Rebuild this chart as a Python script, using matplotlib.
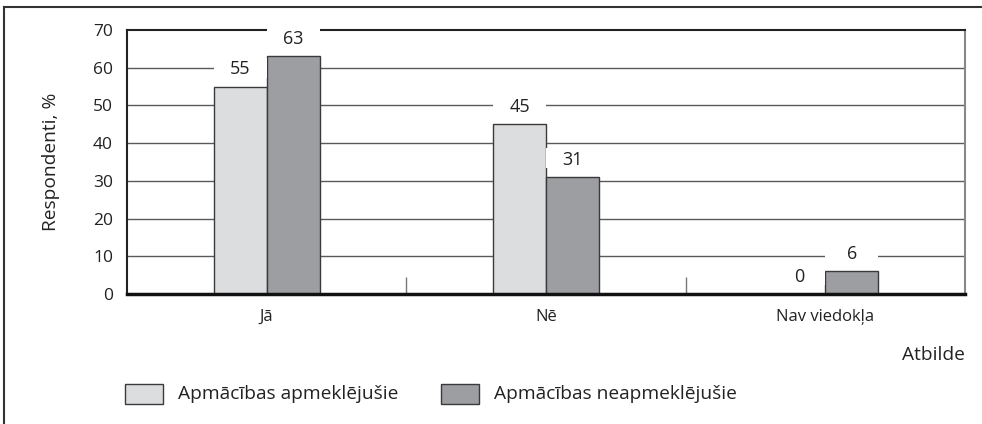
import matplotlib
matplotlib.use("Agg")
import matplotlib.pyplot as plt
from matplotlib.patches import Rectangle
from matplotlib.lines import Line2D
import numpy as np

categories = ["Jā", "Nē", "Nav viedokļa"]
attended = [55, 45, 0]
not_attended = [63, 31, 6]
series_names = ["Apmācības apmeklējušie", "Apmācības neapmeklējušie"]
yticks = [0, 10, 20, 30, 40, 50, 60, 70]

plt.rcParams['font.family'] = ['Open Sans', 'DejaVu Sans']

W, H = 982, 424
fig = plt.figure(figsize=(W / 100, H / 100), dpi=100)

def fx(px):
    return px / W

def fy(py):
    return 1 - py / H

ax = fig.add_axes([fx(127), fy(294), fx(965) - fx(127), fy(30) - fy(294)])

light = "#dcdddf"
dark = "#9d9ea2"
edge = "#3a3a3a"
txt = "#222222"
bw = 0.19
x = np.arange(len(categories))

ax.bar(x - bw / 2, attended, width=bw, color=light, edgecolor=edge, linewidth=1.0, zorder=2)
ax.bar(x + bw / 2, not_attended, width=bw, color=dark, edgecolor=edge, linewidth=1.0, zorder=2)

ax.set_xlim(-0.5, 2.5)
ax.set_ylim(0, 70)
ax.set_yticks(yticks)
ax.set_yticklabels([str(v) for v in yticks], fontsize=12.5, color=txt)
ax.tick_params(axis='y', length=0, pad=10)
for v in yticks[1:-1]:
    ax.axhline(v, color="#5a5a5a", linewidth=1.0, zorder=1)

ax.set_xticks(x)
ax.set_xticklabels(categories, fontsize=12, color=txt)
ax.tick_params(axis='x', length=0, pad=11)
ax.set_xticks([0.5, 1.5], minor=True)
ax.tick_params(axis='x', which='minor', direction='in', length=12, color="#777777", width=1.0)

ax.spines['top'].set_color('#222222')
ax.spines['top'].set_linewidth(1.5)
ax.spines['left'].set_color('#222222')
ax.spines['left'].set_linewidth(1.5)
ax.spines['bottom'].set_color('#111111')
ax.spines['bottom'].set_linewidth(2.5)
ax.spines['right'].set_color('#888888')
ax.spines['right'].set_linewidth(1.5)

# value labels with white boxes as wide as the bars
for xs, vals in ((x - bw / 2, attended), (x + bw / 2, not_attended)):
    for xi, v in zip(xs, vals):
        ax.add_patch(Rectangle((xi - bw / 2, v + 2.3), bw, 5.3, facecolor='white',
                               edgecolor='none', zorder=3, clip_on=False))
        ax.text(xi, v + 4.6, str(v), ha='center', va='center', fontsize=13,
                color=txt, zorder=4, clip_on=False)

ax.set_ylabel("Respondenti, %", fontsize=13.8, labelpad=24, color=txt)
fig.text(fx(965), fy(355), "Atbilde", ha='right', va='center', fontsize=13.8, color=txt)

# legend
for (lx, tx), col, name in zip(((125, 178), (441, 494)), (light, dark), series_names):
    fig.patches.append(Rectangle((fx(lx), fy(404)), fx(38), fy(384) - fy(404),
                                 facecolor=col, edgecolor=edge, linewidth=1.0,
                                 transform=fig.transFigure, figure=fig))
    fig.text(fx(tx), fy(394), name, ha='left', va='center', fontsize=13.8, color=txt)

# outer frame
fig.add_artist(Line2D([fx(4), fx(4)], [fy(7), 0], transform=fig.transFigure,
                      color='#333333', linewidth=1.5))
fig.add_artist(Line2D([fx(4), 1], [fy(7), fy(7)], transform=fig.transFigure,
                      color='#333333', linewidth=1.5))

fig.savefig("out.png", dpi=100)
